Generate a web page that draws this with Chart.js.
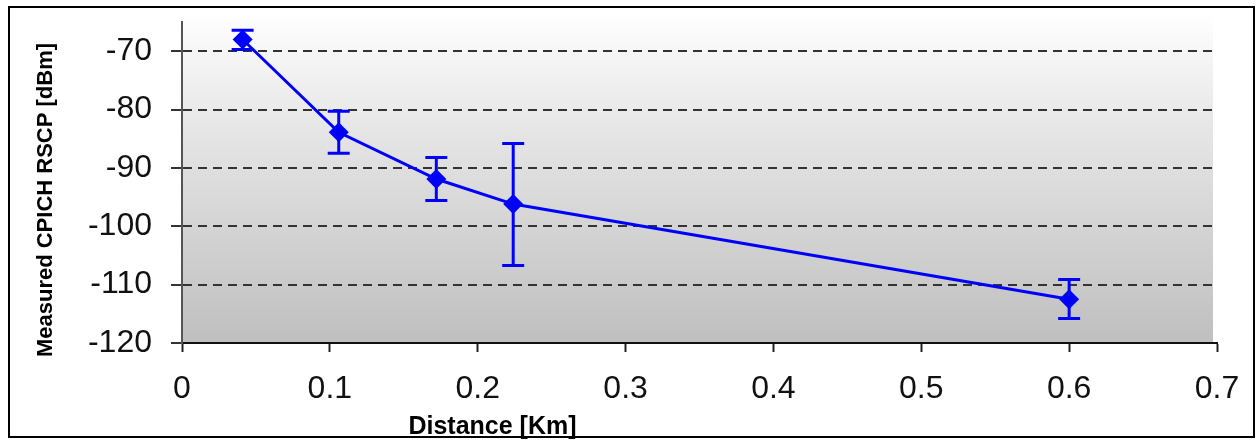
<!DOCTYPE html>
<html>
<head>
<meta charset="utf-8">
<script src="https://cdn.jsdelivr.net/npm/chart.js@4/dist/chart.umd.min.js"></script>
<style>
  body { margin: 0; background: #fff; }
  canvas { display: block; }
</style>
</head>
<body>
<canvas id="rscp-chart" width="1259" height="440"></canvas>
<script>
// data
const distances = [0.041, 0.106, 0.172, 0.224, 0.6];
const rscp = [-68.0, -83.9, -91.9, -96.2, -112.5];
const errTop = [-66.4, -80.3, -88.2, -85.8, -109.1];
const errBottom = [-69.7, -87.5, -95.6, -106.7, -115.8];
const xTicks = [0, 0.1, 0.2, 0.3, 0.4, 0.5, 0.6, 0.7];
const yTicks = [-120, -110, -100, -90, -80, -70];
const xTitle = "Distance [Km]";
const yTitle = "Measured CPICH RSCP [dBm]";

const blue = "#0000ff";
const fontFamily = "Liberation Sans, Arial, sans-serif";

// grey gradient behind the plot, outer frame and the (off-centre) axis titles
const backdrop = {
  id: "backdrop",
  beforeDraw(chart) {
    const { ctx, chartArea: a } = chart;
    const g = ctx.createLinearGradient(0, a.top - 10, 0, a.bottom);
    g.addColorStop(0, "#ffffff");
    g.addColorStop(0.35, "#e6e6e6");
    g.addColorStop(1, "#bfbfbf");
    ctx.save();
    ctx.fillStyle = g;
    ctx.fillRect(a.left, a.top - 10, a.right - a.left - 4, a.bottom - a.top + 10);
    ctx.restore();
  },
  afterDraw(chart) {
    const { ctx, scales } = chart;
    ctx.save();
    ctx.fillStyle = "#000";
    ctx.textAlign = "center";
    ctx.textBaseline = "middle";
    ctx.font = "bold 25px " + fontFamily;
    ctx.fillText(xTitle, scales.x.getPixelForValue(0.21), 427);
    ctx.font = "bold 22px " + fontFamily;
    ctx.translate(46, scales.y.getPixelForValue(-95.5));
    ctx.rotate(-Math.PI / 2);
    ctx.fillText(yTitle, 0, 0);
    ctx.restore();
    ctx.save();
    ctx.strokeStyle = "#000";
    ctx.lineWidth = 2;
    ctx.strokeRect(9, 7, 1245, 430);
    ctx.restore();
  },
};

// error bars through the chart scales
const errorBars = {
  id: "errorBars",
  beforeDatasetsDraw(chart) {
    const { ctx, scales } = chart;
    ctx.save();
    ctx.strokeStyle = blue;
    ctx.lineWidth = 3;
    distances.forEach((d, i) => {
      const x = scales.x.getPixelForValue(d);
      const yT = scales.y.getPixelForValue(errTop[i]);
      const yB = scales.y.getPixelForValue(errBottom[i]);
      ctx.beginPath();
      ctx.moveTo(x, yT);
      ctx.lineTo(x, yB);
      ctx.moveTo(x - 11, yT);
      ctx.lineTo(x + 11, yT);
      ctx.moveTo(x - 11, yB);
      ctx.lineTo(x + 11, yB);
      ctx.stroke();
    });
    ctx.restore();
  },
};

document.addEventListener("DOMContentLoaded", function () {
  const ctx = document.getElementById("rscp-chart").getContext("2d");
  new Chart(ctx, {
    type: "scatter",
    data: {
      datasets: [
        {
          label: "RSCP",
          data: distances.map((d, i) => ({ x: d, y: rscp[i] })),
          showLine: true,
          borderColor: blue,
          backgroundColor: blue,
          borderWidth: 3,
          pointStyle: "rectRot",
          pointRadius: 10,
          pointBorderWidth: 0,
          tension: 0,
        },
      ],
    },
    options: {
      responsive: false,
      animation: false,
      layout: { padding: { left: 0, right: 42, top: 22, bottom: 0 } },
      plugins: {
        legend: { display: false },
        tooltip: { enabled: false },
      },
      scales: {
        x: {
          type: "linear",
          min: 0,
          max: 0.7,
          afterBuildTicks: (s) => { s.ticks = xTicks.map((v) => ({ value: v })); },
          afterFit: (s) => { s.height = 97; },
          ticks: {
            color: "#111",
            font: { family: fontFamily, size: 32 },
            padding: 18,
            maxRotation: 0,
            callback: (v) => String(Math.round(v * 10) / 10),
          },
          grid: {
            drawOnChartArea: false,
            tickLength: 9,
            tickColor: "#222",
            tickWidth: 2,
          },
          border: { color: "#111", width: 2 },
        },
        y: {
          min: -120,
          max: -65,
          afterBuildTicks: (s) => { s.ticks = yTicks.map((v) => ({ value: v })); },
          afterFit: (s) => {
            s.width = 182;
            s.paddingTop = 0;
            s.paddingBottom = 0;
          },
          ticks: {
            color: "#111",
            font: { family: fontFamily, size: 32 },
            padding: 19,
          },
          grid: {
            color: (c) => (c.tick && c.tick.value === -120 ? "rgba(0,0,0,0)" : "#333"),
            lineWidth: 2,
            tickLength: 11,
            tickColor: "#333",
            tickWidth: 2,
          },
          border: { color: "#555", width: 2, dash: [9, 6] },
        },
      },
    },
    plugins: [backdrop, errorBars],
  });
});
</script>
</body>
</html>
